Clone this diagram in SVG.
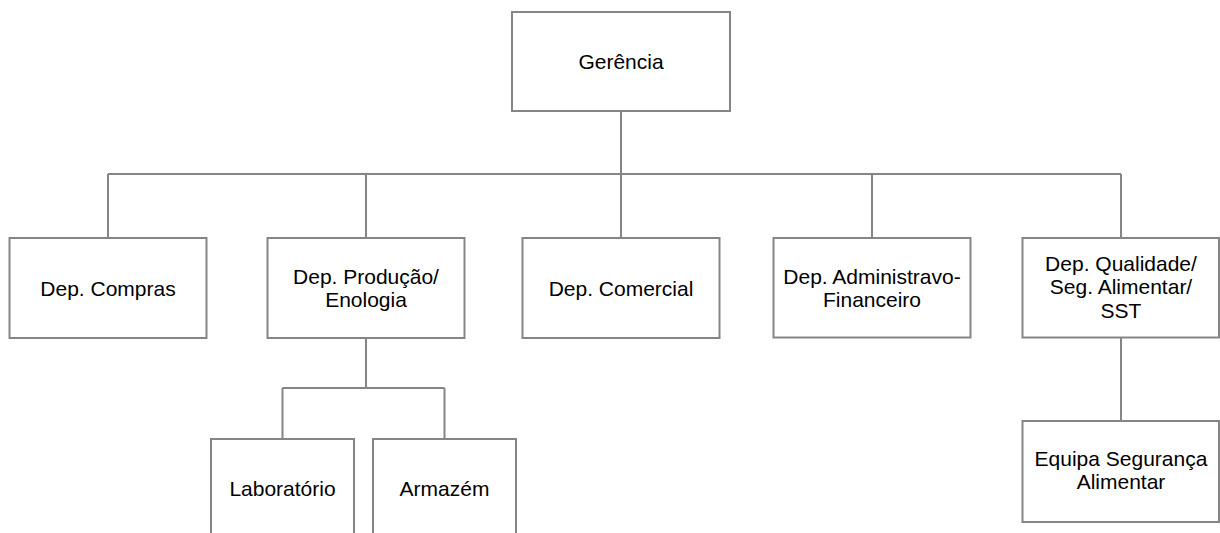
<svg xmlns="http://www.w3.org/2000/svg" width="1220" height="533" viewBox="0 0 1220 533">
  <style>
    .box { fill: #ffffff; stroke: #858585; stroke-width: 2; }
    .link { fill: none; stroke: #858585; stroke-width: 2; }
    .label { font-family: "Liberation Sans", Arial, sans-serif; font-size: 21px; fill: #000000; text-anchor: middle; }
  </style>
  <rect width="1220" height="533" fill="#ffffff"/>

  <!-- connectors -->
  <g id="connectors">
    <path class="link" d="M621 111 V174 M108 174 H1121 M108 174 V238 M366 174 V238 M621 174 V238 M872 174 V238 M1121 174 V238"/>
    <path class="link" d="M366 338 V388 M282.5 388 H444.5 M282.5 388 V439 M444.5 388 V439"/>
    <path class="link" d="M1121 337 V421"/>
  </g>

  <g id="gerencia">
    <rect class="box" x="512" y="12" width="218" height="99"/>
    <text class="label" x="621" y="69">Gerência</text>
  </g>

  <g id="dep-compras">
    <rect class="box" x="9.5" y="238" width="197" height="100"/>
    <text class="label" x="108" y="295.5">Dep. Compras</text>
  </g>

  <g id="dep-producao">
    <rect class="box" x="267.5" y="238" width="197" height="100"/>
    <text class="label" x="366" y="283.5">Dep. Produção/</text>
    <text class="label" x="366" y="307">Enologia</text>
  </g>

  <g id="dep-comercial">
    <rect class="box" x="522.5" y="238" width="197" height="100"/>
    <text class="label" x="621" y="295.5">Dep. Comercial</text>
  </g>

  <g id="dep-admin">
    <rect class="box" x="773.5" y="238" width="197" height="99.5"/>
    <text class="label" x="872" y="283.5">Dep. Administravo-</text>
    <text class="label" x="872" y="307">Financeiro</text>
  </g>

  <g id="dep-qualidade">
    <rect class="box" x="1022.5" y="238" width="196.5" height="99.5"/>
    <text class="label" x="1121" y="270.5">Dep. Qualidade/</text>
    <text class="label" x="1121" y="294">Seg. Alimentar/</text>
    <text class="label" x="1121" y="318">SST</text>
  </g>

  <g id="laboratorio">
    <rect class="box" x="211" y="439" width="143" height="110"/>
    <text class="label" x="282.5" y="496">Laboratório</text>
  </g>

  <g id="armazem">
    <rect class="box" x="373" y="439" width="143" height="110"/>
    <text class="label" x="444.5" y="496">Armazém</text>
  </g>

  <g id="equipa-seguranca">
    <rect class="box" x="1022.5" y="421" width="196.5" height="101"/>
    <text class="label" x="1121" y="465.5">Equipa Segurança</text>
    <text class="label" x="1121" y="489">Alimentar</text>
  </g>
</svg>
